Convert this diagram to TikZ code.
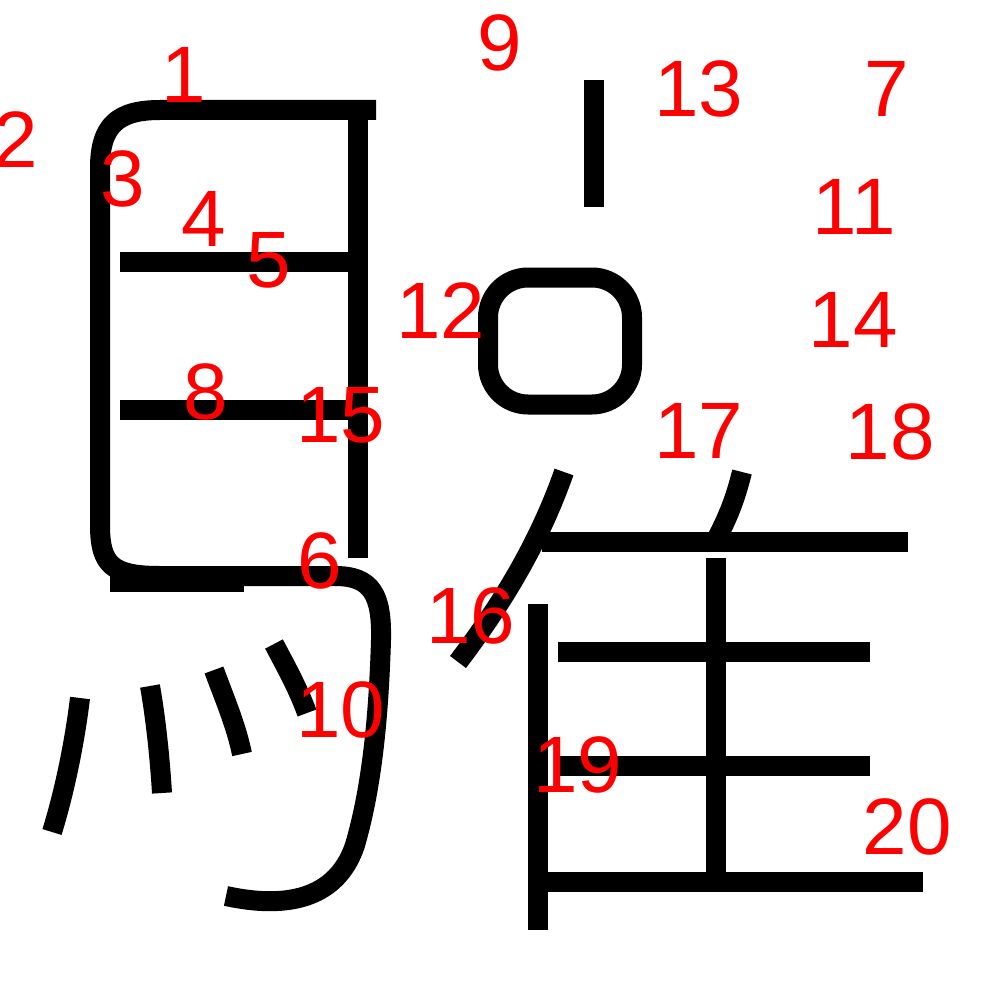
\documentclass[tikz,border=0pt]{standalone}
\usepackage{fontspec}
\setmainfont{Liberation Sans}
\begin{document}
\begin{tikzpicture}[x=1pt,y=-1pt,
  strk/.style={draw=black,line width=20pt,line cap=butt,line join=round},
  num/.style={text=red,font=\fontsize{80}{96}\selectfont,inner sep=0pt,anchor=base}]
\useasboundingbox (0,0) rectangle (1000,1000);
\fill[white] (0,0) rectangle (1000,1000);
% left component
\draw[strk] (376,110) -- (160,110) .. controls (118,110) and (100,125) .. (100,168)
  -- (100,525) .. controls (100,565) and (112,576) .. (160,576) -- (335,576)
  .. controls (372,576) and (382,595) .. (381,640)
  .. controls (378,740) and (368,800) .. (355,845)
  .. controls (340,890) and (300,912) .. (226,896);
\draw[strk] (358,115) -- (358,558);
\draw[strk] (120,262) -- (358,262);
\draw[strk] (120,410) -- (358,410);
\draw[strk] (110,582) -- (244,582);
\draw[strk] (80,698) .. controls (75,740) and (65,790) .. (52,832);
\draw[strk] (150,686) .. controls (156,720) and (160,760) .. (162,793);
\draw[strk] (214,670) .. controls (225,700) and (236,725) .. (242,754);
\draw[strk] (274,644) .. controls (285,665) and (298,688) .. (307,713);
% right component
\draw[strk] (594,80) -- (594,207);
\draw[strk,rounded corners=40pt] (488,277.5) rectangle (632,404.5);
\draw[strk] (564,472) .. controls (540,540) and (505,600) .. (458,662);
\draw[strk] (742,472) .. controls (735,500) and (728,517) .. (716,540);
\draw[strk] (542,542) -- (908,542);
\draw[strk] (716,558) -- (716,882);
\draw[strk] (558,652) -- (870,652);
\draw[strk] (558,766) -- (870,766);
\draw[strk] (538,604) -- (538,930);
\draw[strk] (538,882) -- (923,882);
% numbers
\node[num] (l1) at (184,103) {1};
\node[num] (l2) at (16,168) {2};
\node[num] (l3) at (123,207) {3};
\node[num] (l4) at (204,246) {4};
\node[num] (l5) at (269,287) {5};
\node[num] (l6) at (320,588) {6};
\node[num] (l7) at (887,117) {7};
\node[num] (l8) at (206,419) {8};
\node[num] (l9) at (500,71) {9};
\node[num] (l10) at (341,737) {10};
\node[num] (l11) at (854,234) {11};
\node[num] (l12) at (441,338) {12};
\node[num] (l13) at (699,117) {13};
\node[num] (l14) at (853,347) {14};
\node[num] (l15) at (341,442) {15};
\node[num] (l16) at (471,643) {16};
\node[num] (l17) at (699,458) {17};
\node[num] (l18) at (890,459) {18};
\node[num] (l19) at (578,792) {19};
\node[num] (l20) at (907,854) {20};
\end{tikzpicture}
\end{document}
